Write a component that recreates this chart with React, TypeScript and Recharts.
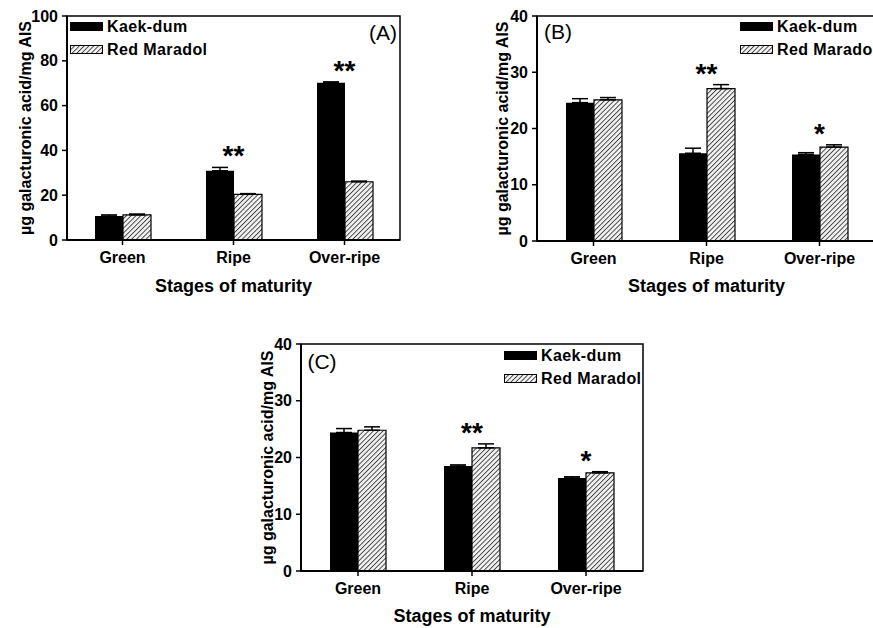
import React from 'react'
import {
  ComposedChart,
  Bar,
  Line,
  XAxis,
  YAxis,
  ErrorBar,
  Legend,
  ReferenceArea,
} from 'recharts'

const stages = ['Green', 'Ripe', 'Over-ripe']

// panel A
const kaekA = [10.7, 30.9, 70.2]
const kaekErrA = [0.5, 1.5, 0.4]
const redA = [11.2, 20.4, 26.0]
const redErrA = [0.4, 0.3, 0.3]
const starsA = ['', '**', '**']
const ticksA = [0, 20, 40, 60, 80, 100]

// panel B
const kaekB = [24.6, 15.6, 15.4]
const kaekErrB = [0.7, 0.9, 0.3]
const redB = [25.1, 27.1, 16.7]
const redErrB = [0.4, 0.7, 0.4]
const starsB = ['', '**', '*']
const ticksB = [0, 10, 20, 30, 40]

// panel C
const kaekC = [24.4, 18.5, 16.4]
const kaekErrC = [0.7, 0.2, 0.2]
const redC = [24.8, 21.7, 17.3]
const redErrC = [0.6, 0.7, 0.2]
const starsC = ['', '**', '*']
const ticksC = [0, 10, 20, 30, 40]

const FONT = '"Liberation Sans", Arial, sans-serif'
const Y_LABEL = 'µg galacturonic acid/mg AIS'

function buildRows(kaek: number[], kaekErr: number[], red: number[], redErr: number[], stars: string[]) {
  return stages.map((stage, i) => ({
    stage,
    kaek: kaek[i],
    red: red[i],
    kaekErr: [0, kaekErr[i]],
    redErr: [0, redErr[i]],
    sig: stars[i],
    top: Math.max(kaek[i] + kaekErr[i], red[i] + redErr[i]),
  }))
}

function Swatch({ hatched }: { hatched: boolean }) {
  return (
    <svg width={33} height={9} style={{ display: 'block' }}>
      <rect
        x={0.5}
        y={0.5}
        width={32}
        height={8}
        fill={hatched ? 'url(#hatch)' : '#000'}
        stroke="#000"
        strokeWidth={1}
      />
    </svg>
  )
}

function LegendBox() {
  const items = [
    { name: 'Kaek-dum', hatched: false },
    { name: 'Red Maradol', hatched: true },
  ]
  return (
    <div style={{ fontFamily: FONT, fontWeight: 'bold', fontSize: 16, whiteSpace: 'nowrap' }}>
      {items.map(it => (
        <div key={it.name} style={{ display: 'flex', alignItems: 'center', height: 23 }}>
          <Swatch hatched={it.hatched} />
          <span style={{ marginLeft: 4, letterSpacing: 0.4 }}>{it.name}</span>
        </div>
      ))}
    </div>
  )
}

function StarDot(props: any) {
  const { cx, cy, payload } = props
  if (cx == null || cy == null || !payload.sig) return <g key={`s-${props.index}`} />
  return (
    <text
      key={`s-${props.index}`}
      x={cx}
      y={cy}
      dy={-2}
      textAnchor="middle"
      fontFamily={FONT}
      fontWeight="bold"
      fontSize={28}
      fill="#000"
    >
      {payload.sig}
    </text>
  )
}

interface PanelProps {
  left: number
  top: number
  width: number
  height: number
  marginTop: number
  marginRight: number
  yAxisWidth: number
  xAxisHeight: number
  yMax: number
  ticks: number[]
  rows: any[]
  letter: string
  letterAt: [number, number]
  legendAt: [number, number]
  yLabelOffset: number
  xLabelOffset: number
}

function Panel(p: PanelProps) {
  return (
    <div style={{ position: 'absolute', left: p.left, top: p.top, width: p.width, height: p.height }}>
      <ComposedChart
        width={p.width}
        height={p.height}
        data={p.rows}
        margin={{ top: p.marginTop, right: p.marginRight, left: 0, bottom: 0 }}
        barGap={0}
      >
        <XAxis
          dataKey="stage"
          height={p.xAxisHeight}
          axisLine={{ stroke: '#000', strokeWidth: 2 }}
          tickLine={{ stroke: '#000', strokeWidth: 1.5 }}
          tickSize={5}
          tickMargin={7}
          tick={{ fill: '#000', fontSize: 16, fontWeight: 'bold', fontFamily: FONT }}
          interval={0}
          label={{
            value: 'Stages of maturity',
            position: 'insideBottom',
            offset: p.xLabelOffset,
            style: { fill: '#000', fontSize: 18, fontWeight: 'bold', fontFamily: FONT },
          }}
        />
        <YAxis
          width={p.yAxisWidth}
          domain={[0, p.yMax]}
          ticks={p.ticks}
          allowDataOverflow
          axisLine={{ stroke: '#000', strokeWidth: 2 }}
          tickLine={{ stroke: '#000', strokeWidth: 1.5 }}
          tickSize={5}
          tickMargin={4}
          tick={{ fill: '#000', fontSize: 16, fontWeight: 'bold', fontFamily: FONT }}
          label={{
            value: Y_LABEL,
            angle: -90,
            position: 'insideLeft',
            offset: p.yLabelOffset,
            style: { textAnchor: 'middle', fill: '#000', fontSize: 16, fontWeight: 'bold', fontFamily: FONT },
          }}
        />
        <ReferenceArea y1={0} y2={p.yMax} fill="none" stroke="#000" strokeWidth={1.5} ifOverflow="visible" />
        <Bar dataKey="kaek" name="Kaek-dum" fill="#000" barSize={28} isAnimationActive={false}>
          <ErrorBar dataKey="kaekErr" width={8} stroke="#000" strokeWidth={1.5} />
        </Bar>
        <Bar
          dataKey="red"
          name="Red Maradol"
          fill="url(#hatch)"
          stroke="#000"
          strokeWidth={1.2}
          barSize={28}
          isAnimationActive={false}
        >
          <ErrorBar dataKey="redErr" width={8} stroke="#000" strokeWidth={1.5} />
        </Bar>
        <Line
          dataKey="top"
          stroke="none"
          legendType="none"
          dot={StarDot}
          activeDot={false}
          isAnimationActive={false}
        />
        <Legend
          layout="vertical"
          align="center"
          verticalAlign="middle"
          wrapperStyle={{ left: p.legendAt[0], top: p.legendAt[1], width: 'auto' }}
          content={() => <LegendBox />}
        />
      </ComposedChart>
      <div
        style={{
          position: 'absolute',
          left: p.letterAt[0],
          top: p.letterAt[1],
          transform: 'translate(-50%, -50%)',
          fontFamily: FONT,
          fontSize: 21,
          color: '#000',
        }}
      >
        {p.letter}
      </div>
    </div>
  )
}

export default function App() {
  return (
    <div
      style={{
        position: 'absolute',
        left: 0,
        top: 0,
        width: 873,
        height: 628,
        overflow: 'hidden',
        background: '#fff',
      }}
    >
      <svg width={0} height={0} style={{ position: 'absolute' }}>
        <defs>
          <pattern id="hatch" patternUnits="userSpaceOnUse" width={3.4} height={3.4} patternTransform="rotate(45)">
            <rect width={3.4} height={3.4} fill="#f2f2f2" />
            <line x1={0} y1={0} x2={0} y2={3.4} stroke="#3c3c3c" strokeWidth={1.8} />
          </pattern>
        </defs>
      </svg>
      <Panel
        left={0}
        top={0}
        width={440}
        height={300}
        marginTop={16}
        marginRight={40}
        yAxisWidth={67}
        xAxisHeight={60}
        yMax={100}
        ticks={ticksA}
        rows={buildRows(kaekA, kaekErrA, redA, redErrA, starsA)}
        letter="(A)"
        letterAt={[383, 33]}
        legendAt={[70, 15]}
        yLabelOffset={25}
        xLabelOffset={8}
      />
      <Panel
        left={440}
        top={0}
        width={440}
        height={300}
        marginTop={16}
        marginRight={4}
        yAxisWidth={97}
        xAxisHeight={59}
        yMax={40}
        ticks={ticksB}
        rows={buildRows(kaekB, kaekErrB, redB, redErrB, starsB)}
        letter="(B)"
        letterAt={[118, 32]}
        legendAt={[300, 15]}
        yLabelOffset={62}
        xLabelOffset={8}
      />
      <Panel
        left={200}
        top={320}
        width={480}
        height={308}
        marginTop={24}
        marginRight={37}
        yAxisWidth={101}
        xAxisHeight={57}
        yMax={40}
        ticks={ticksC}
        rows={buildRows(kaekC, kaekErrC, redC, redErrC, starsC)}
        letter="(C)"
        letterAt={[122, 42]}
        legendAt={[304, 24]}
        yLabelOffset={67}
        xLabelOffset={6}
      />
    </div>
  )
}
